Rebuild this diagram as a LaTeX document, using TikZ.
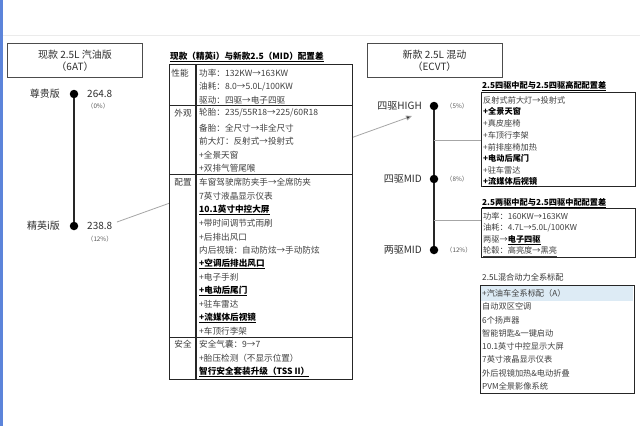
\documentclass[tikz,border=0pt]{standalone}
\usepackage{fontspec}
\setmainfont{Noto Sans CJK SC}
\usetikzlibrary{arrows.meta}
\definecolor{stripblue}{RGB}{92,132,218}
\definecolor{hlblue}{RGB}{221,235,245}
\newcommand\tfnt{\fontsize{8.6}{10}\selectfont}
\newcommand\bfnt{\fontsize{8.2}{10}\selectfont}
\newcommand\lfnt{\fontsize{10}{12}\selectfont}
\newcommand\pfnt{\fontsize{6.3}{7}\selectfont}
\tikzset{
  item/.style={anchor=west, inner sep=0pt, font=\tfnt, text=black!75},
  bitem/.style={anchor=west, inner sep=0pt, font=\tfnt\bfseries, text=black},
  ritem/.style={anchor=west, inner sep=0pt, font=\bfnt, text=black!75},
  rbitem/.style={anchor=west, inner sep=0pt, font=\bfnt\bfseries, text=black},
  cat/.style={inner sep=0pt, font=\tfnt, text=black!78},
  lbl/.style={inner sep=0pt, font=\lfnt, text=black!82},
  pct/.style={anchor=west, inner sep=0pt, font=\pfnt, text=black!65},
  tbl/.style={draw=black!85, line width=1.2pt},
  hbox/.style={draw=black!70, line width=1.3pt, fill=white, inner sep=0pt, anchor=north west},
  dot/.style={circle, fill=black, inner sep=0pt, minimum size=8.5pt},
  vline/.style={draw=black!85, line width=1.6pt},
  conn/.style={draw=black!35, line width=0.8pt},
}
\begin{document}
\begin{tikzpicture}[x=1pt,y=-1pt]
\useasboundingbox (0,0) rectangle (640,426);
\fill[white] (0,0) rectangle (640,426);
\fill[stripblue] (0,0) rectangle (3,426);
\draw[black!8, line width=0.6pt] (3,35) -- (640,35);

% ---------- left: current petrol ----------
\node[hbox, minimum width=135pt, minimum height=34pt] (lbox) at (7,43) {};
\node[lbl] (lt1) at (75,55) {现款 2.5L 汽油版};
\node[lbl] (lt2) at (75,67) {（6AT）};

\node[dot] (ld1) at (74,94) {};
\node[dot] (ld2) at (74,226) {};
\draw[vline] (ld1) -- (ld2);
\node[lbl, anchor=east] (lz1) at (60,94) {尊贵版};
\node[lbl, anchor=west] (lp1) at (87,94) {264.8};
\node[pct] (lq1) at (87,106) {（0\%）};
\node[lbl, anchor=east] (lz2) at (60,226) {精英i版};
\node[lbl, anchor=west] (lp2) at (87,226) {238.8};
\node[pct] (lq2) at (87,239) {（12\%）};

% long arrow from 238.8 to 四驱HIGH (passes behind the table)
\coordinate (as) at (117,222);
\coordinate (ae) at (412,116);
\draw[conn, -{Triangle[length=6pt,width=5pt,fill=black!80]}] (as) -- (ae);

% ---------- middle table ----------
\node[anchor=west, inner sep=0pt, font=\tfnt\bfseries] (mt) at (170,57) {\underline{现款（精英i）与新款2.5（MID）配置差}};
\node[tbl, fill=white, inner sep=0pt, anchor=north west, minimum width=183pt, minimum height=315pt] (tab) at (169,64) {};
\draw[tbl] (196,64) -- (196,379);
\draw[tbl] (169,105.5) -- (352,105.5);
\draw[tbl] (169,174.5) -- (352,174.5);
\draw[tbl] (169,337.5) -- (352,337.5);

\node[cat] (c1) at (180,73) {性能};
\node[cat] (c2) at (183,113) {外观};
\node[cat] (c3) at (183,182) {配置};
\node[cat] (c4) at (183,344) {安全};

\node[item] (m1) at (199,73) {功率：132KW→163KW};
\node[item] (m2) at (199,87) {油耗：8.0→5.0L/100KW};
\node[item] (m3) at (199,100) {驱动：四驱→电子四驱};
\node[item] (m4) at (199,113) {轮胎：235/55R18→225/60R18};
\node[item] (m5) at (199,128) {备胎：全尺寸→非全尺寸};
\node[item] (m6) at (199,141) {前大灯：反射式→投射式};
\node[item] (m7) at (199,155) {+全景天窗};
\node[item] (m8) at (199,168) {+双排气管尾喉};
\node[item] (m9) at (199,182) {车窗驾驶席防夹手→全席防夹};
\node[item] (m10) at (199,196) {7英寸液晶显示仪表};
\node[bitem] (m11) at (199,210) {\underline{10.1英寸中控大屏}};
\node[item] (m12) at (199,223) {+带时间调节式雨刷};
\node[item] (m13) at (199,237) {+后排出风口};
\node[item] (m14) at (199,250) {内后视镜：自动防炫→手动防炫};
\node[bitem] (m15) at (199,264) {\underline{+空调后排出风口}};
\node[item] (m16) at (199,277) {+电子手刹};
\node[bitem] (m17) at (199,291) {\underline{+电动后尾门}};
\node[item] (m18) at (199,304) {+驻车雷达};
\node[bitem] (m19) at (199,318) {\underline{+流媒体后视镜}};
\node[item] (m20) at (199,331) {+车顶行李架};
\node[item] (m21) at (199,344) {安全气囊：9→7};
\node[item] (m22) at (199,358) {+胎压检测（不显示位置）};
\node[bitem] (m23) at (199,372) {\underline{智行安全套装升级（TSS II）}};

% ---------- right: new hybrid ----------
\node[hbox, minimum width=135pt, minimum height=34pt] (rbox) at (367,43) {};
\node[lbl] (rt1) at (434.5,55) {新款 2.5L 混动};
\node[lbl] (rt2) at (434.5,67) {（ECVT）};

\node[dot] (rd1) at (434,106) {};
\node[dot] (rd2) at (434,179) {};
\node[dot] (rd3) at (434,250) {};
\draw[vline] (rd1) -- (rd2) -- (rd3);
\node[lbl, anchor=east] (rz1) at (422,106) {四驱HIGH};
\node[pct] (rq1) at (446,106) {（5\%）};
\node[lbl, anchor=east] (rz2) at (422,179) {四驱MID};
\node[pct] (rq2) at (446,179) {（8\%）};
\node[lbl, anchor=east] (rz3) at (422,250) {两驱MID};
\node[pct] (rq3) at (446,250) {（12\%）};

% box 1
\node[anchor=west, inner sep=0pt, font=\bfnt\bfseries] (b1t) at (482,86) {\underline{2.5四驱中配与2.5四驱高配配置差}};
\node[tbl, fill=white, inner sep=0pt, anchor=north west, minimum width=154pt, minimum height=94pt] (box1) at (481,92) {};
\coordinate (k1) at (434,140);
\draw[conn] (k1) -- (k1 -| box1.west);
\node[ritem] (r1) at (483,100) {反射式前大灯→投射式};
\node[rbitem] (r2) at (483,111.5) {+全景天窗};
\node[ritem] (r3) at (483,123.5) {+真皮座椅};
\node[ritem] (r4) at (483,135) {+车顶行李架};
\node[ritem] (r5) at (483,147) {+前排座椅加热};
\node[rbitem] (r6) at (483,158.5) {+电动后尾门};
\node[ritem] (r7) at (483,170.5) {+驻车雷达};
\node[rbitem] (r8) at (483,182) {\underline{+流媒体后视镜}};

% box 2
\node[anchor=west, inner sep=0pt, font=\bfnt\bfseries] (b2t) at (482,203) {\underline{2.5两驱中配与2.5四驱中配配置差}};
\node[tbl, fill=white, inner sep=0pt, anchor=north west, minimum width=154pt, minimum height=49pt] (box2) at (481,208) {};
\coordinate (k2) at (434,220);
\draw[conn] (k2) -- (k2 -| box2.west);
\node[ritem] (s1) at (483,216) {功率：160KW→163KW};
\node[ritem] (s2) at (483,228) {油耗：4.7L→5.0L/100KW};
\node[ritem] (s3) at (483,240) {两驱→\textbf{\textcolor{black}{\underline{电子四驱}}}};
\node[ritem] (s4) at (483,251.5) {\underline{轮毂：高亮度→黑亮}};

% box 3
\node[anchor=west, inner sep=0pt, font=\bfnt, text=black!80] (b3t) at (482,277) {2.5L混合动力全系标配};
\node[tbl, fill=white, inner sep=0pt, anchor=north west, minimum width=154pt, minimum height=108pt] (box3) at (480,285) {};
\fill[hlblue] (481,286) rectangle (633,300.5);
\node[ritem] (t1) at (482,293) {+汽油车全系标配（A）};
\node[ritem] (t2) at (482,306.5) {自动双区空调};
\node[ritem] (t3) at (482,320) {6个扬声器};
\node[ritem] (t4) at (482,333) {智能钥匙\&一键启动};
\node[ritem] (t5) at (482,346.5) {10.1英寸中控显示大屏};
\node[ritem] (t6) at (482,359.5) {7英寸液晶显示仪表};
\node[ritem] (t7) at (482,373) {外后视镜加热\&电动折叠};
\node[ritem] (t8) at (482,386) {PVM全景影像系统};
\end{tikzpicture}
\end{document}
